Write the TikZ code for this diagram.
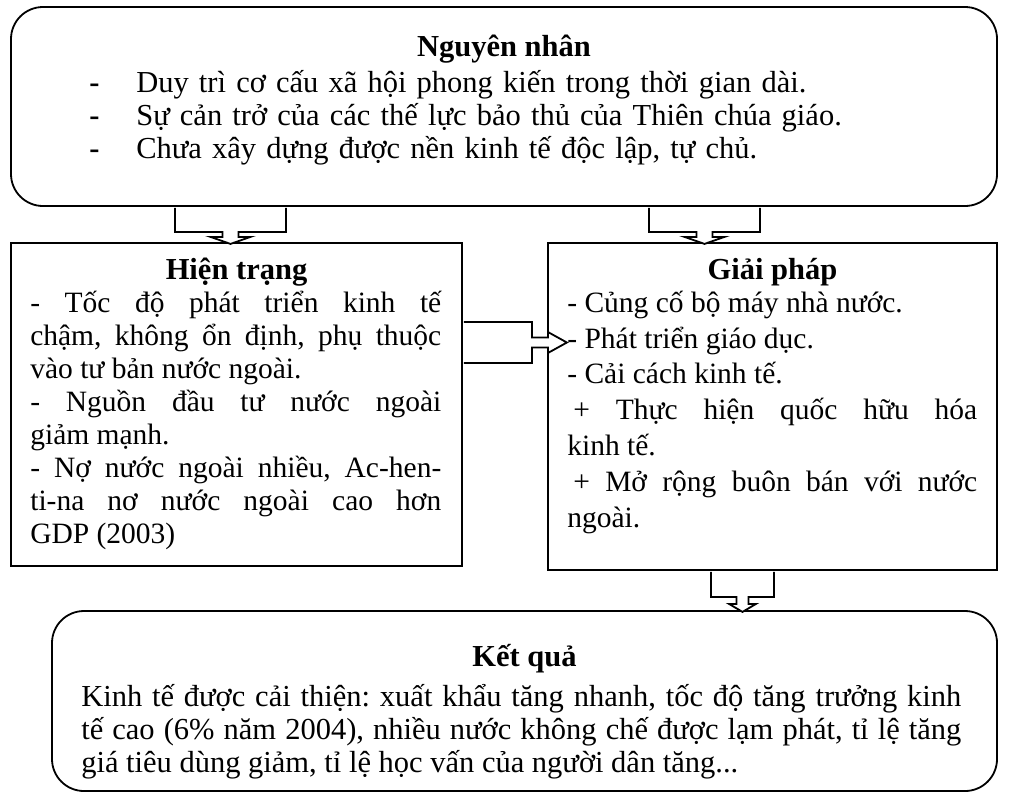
\documentclass[tikz,border=0pt]{standalone}
\usepackage{fontspec}
\setmainfont{Liberation Serif}
\usetikzlibrary{calc,positioning}
\setlength{\parindent}{0pt}
\frenchspacing
\hyphenpenalty=10000
\exhyphenpenalty=10000
\tolerance=9999
\newcommand{\topstrut}{\rule{0pt}{32pt}}
\newcommand{\itemdash}{\makebox[47pt][l]{\textbf{-}}}

\tikzset{
	box/.style={draw, line width=1.8pt, inner sep=0pt},
	roundbox/.style={box, rounded corners=32pt},
	headtext/.style={font=\fontsize{30.5}{33}\selectfont\bfseries, inner sep=0pt, anchor=base},
	bodytext/.style={font=\fontsize{29.5}{33}\selectfont, inner sep=0pt, anchor=north west, align=justify},
	arrowline/.style={draw, fill=white, line width=1.8pt, line join=miter},
	pics/blockarrow/.style n args={6}{code={
		\draw[arrowline] (0,-#1) -- (#2,-#1) -- (#2,-#3) -- ({#2+#4},-#3) -- ({#2+#4},-#5) -- ({#2+#4+#6},0)
			-- ({#2+#4},#5) -- ({#2+#4},#3) -- (#2,#3) -- (#2,#1) -- (0,#1);
	}}
}

\begin{document}
\begin{tikzpicture}[x=1pt,y=-1pt]
	\useasboundingbox (0,0) rectangle (1016,793);
	% boxes
	\node[roundbox, minimum width=986pt, minimum height=199pt] (cause) at (504,106.5) {};
	\node[box, minimum width=451pt, minimum height=323pt] (situation) at (236.5,404.5) {};
	\node[box, minimum width=449pt, minimum height=327pt] (solution) at (772.5,406.5) {};
	\node[roundbox, minimum width=945pt, minimum height=180pt] (result) at (524.5,701) {};
	% block arrows
	\pic[rotate=-90] at ($(230.5,0 |- cause.south)+(0,0.9)$) {blockarrow={55.5}{24.1}{8}{5}{20}{7}};
	\pic[rotate=-90] at ($(704.5,0 |- cause.south)+(0,0.9)$) {blockarrow={55.5}{24.1}{8}{5}{20}{7}};
	\pic at ($(situation.east |- 0,342.5)+(0.9,0)$) {blockarrow={20.5}{68.1}{5}{16}{10.5}{19}};
	\pic[rotate=-90] at ($(742.5,0 |- solution.south)+(0,0.9)$) {blockarrow={31.5}{25.1}{6}{7}{13.5}{8}};
	% texts
	\node[headtext] (causehead) at ($(cause.north)+(0,50)$) {Nguyên nhân};
	\node[bodytext, text width=880pt, align=left, font=\fontsize{30.5}{33}\selectfont] (causebody) at ($(cause.north west)+(79,54)$) {\topstrut\itemdash Duy trì cơ cấu xã hội phong kiến trong thời gian dài.\par
		\itemdash Sự cản trở của các thế lực bảo thủ của Thiên chúa giáo.\par
		\itemdash Chưa xây dựng được nền kinh tế độc lập, tự chủ.};
	\node[headtext] (situationhead) at ($(situation.north)+(0,37)$) {Hiện trạng};
	\node[bodytext, text width=411pt] (situationbody) at ($(situation.north west)+(20,38)$) {\topstrut- Tốc độ phát triển kinh tế\linebreak chậm, không ổn định, phụ thuộc\linebreak vào tư bản nước ngoài.\par
		- Nguồn đầu tư nước ngoài\linebreak giảm mạnh.\par
		- Nợ nước ngoài nhiều, Ac-hen-\linebreak ti-na nơ nước ngoài cao hơn\linebreak GDP (2003)};
	\node[headtext] (solutionhead) at ($(solution.north)+(0,37)$) {Giải pháp};
	\node[bodytext, text width=410pt, font=\fontsize{29.5}{35.8}\selectfont] (solutionbody) at ($(solution.north west)+(20,38)$) {\topstrut- Củng cố bộ máy nhà nước.\par
		- Phát triển giáo dục.\par
		- Cải cách kinh tế.\par
		\hspace*{6pt}+ Thực hiện quốc hữu hóa\linebreak kinh tế.\par
		\hspace*{6pt}+ Mở rộng buôn bán với nước\linebreak ngoài.};
	\node[headtext] (resulthead) at ($(result.north)+(0,56)$) {Kết quả};
	\node[bodytext, text width=880pt, font=\fontsize{30.5}{33}\selectfont] (resultbody) at ($(result.north west)+(30,64)$) {\topstrut Kinh tế được cải thiện: xuất khẩu tăng nhanh, tốc độ tăng trưởng kinh\linebreak tế cao (6\% năm 2004), nhiều nước không chế được lạm phát, tỉ lệ tăng\linebreak giá tiêu dùng giảm, tỉ lệ học vấn của người dân tăng...};
\end{tikzpicture}
\end{document}
